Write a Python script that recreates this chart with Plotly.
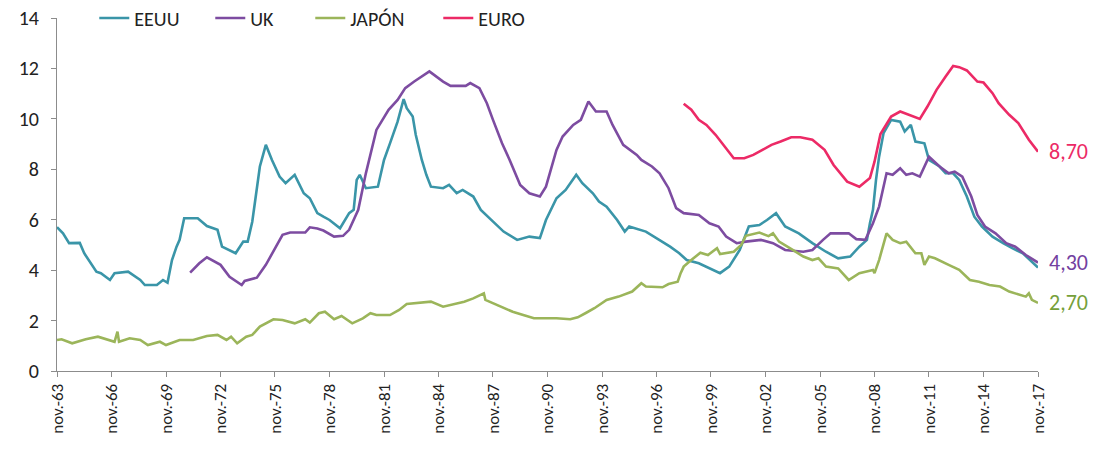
import plotly.graph_objects as go

# ---------------- data ----------------
eeuu_dates = ["1963-11","1964-03","1964-07","1965-02","1965-05","1966-01","1966-04","1966-10","1967-01","1967-10",
              "1968-06","1968-09","1969-05","1969-09","1969-12","1970-03","1970-06","1970-08","1970-11","1971-08",
              "1972-02","1972-09","1972-12","1973-09","1974-02","1974-05","1974-08","1975-01","1975-05","1975-09",
              "1976-02","1976-06","1976-12","1977-06","1977-10","1978-03","1978-07","1978-11","1979-06","1979-12",
              "1980-03","1980-05","1980-07","1980-11","1981-07","1981-11","1982-03","1982-08","1982-12","1983-02",
              "1983-06","1983-08","1983-12","1984-03","1984-06","1985-02","1985-06","1985-11","1986-03","1986-10",
              "1987-03","1987-11","1988-06","1989-03","1989-11","1990-06","1990-10","1991-05","1991-11","1992-06",
              "1992-10","1993-05","1993-09","1994-02","1994-09","1995-02","1995-05","1996-04","1996-11","1997-08",
              "1998-02","1998-07","1999-03","2000-05","2000-11","2001-06","2001-12","2002-07","2002-12","2003-06",
              "2003-12","2004-09","2005-06","2006-03","2006-11","2007-07","2008-01","2008-06","2008-08","2008-10",
              "2008-12","2009-02","2009-05","2009-10","2010-04","2010-07","2010-11","2011-02","2011-08","2011-11",
              "2012-06","2012-10","2013-03","2013-07","2013-12","2014-05","2014-10","2015-05","2015-12","2016-06",
              "2017-01","2017-11"]
eeuu_vals = [5.70,5.46,5.07,5.08,4.67,3.94,3.88,3.61,3.88,3.94,
             3.61,3.41,3.41,3.61,3.50,4.40,4.93,5.20,6.06,6.06,
             5.75,5.60,4.93,4.67,5.13,5.13,5.92,8.11,8.97,8.37,
             7.71,7.45,7.78,7.05,6.85,6.26,6.12,5.99,5.66,6.26,
             6.39,7.58,7.78,7.25,7.31,8.37,9.03,9.89,10.78,10.42,
             10.09,9.37,8.37,7.78,7.31,7.25,7.38,7.05,7.18,6.92,
             6.39,5.92,5.53,5.20,5.33,5.27,5.99,6.85,7.18,7.78,
             7.45,7.05,6.72,6.52,5.99,5.53,5.73,5.53,5.27,4.93,
             4.67,4.40,4.27,3.88,4.14,4.80,5.73,5.79,5.99,6.26,
             5.73,5.46,5.07,4.73,4.47,4.54,4.93,5.20,5.86,6.39,
             7.58,8.50,9.43,9.96,9.89,9.50,9.76,9.10,9.03,8.37,
             8.11,7.84,7.84,7.58,6.92,6.12,5.73,5.33,5.07,4.87,
             4.67,4.10]

uk_dates = ["1971-03","1971-09","1972-02","1972-11","1973-05","1974-01","1974-03","1974-11","1975-05","1975-10",
            "1976-04","1976-09","1977-07","1977-10","1978-03","1978-07","1979-02","1979-08","1979-12","1980-06",
            "1980-11","1981-06","1982-02","1982-08","1983-01","1983-07","1984-05","1985-02","1985-07","1986-05",
            "1986-08","1987-02","1987-07","1987-11","1988-05","1988-10","1989-05","1989-11","1990-06","1990-10",
            "1991-05","1991-09","1992-04","1992-09","1993-02","1993-07","1994-02","1994-06","1995-01","1995-10",
            "1996-01","1996-08","1997-01","1997-07","1997-12","1998-05","1999-03","1999-10","2000-04","2000-09",
            "2001-04","2001-10","2002-08","2003-04","2003-12","2004-12","2005-06","2006-01","2006-06","2007-06",
            "2007-11","2008-05","2008-10","2009-02","2009-07","2009-11","2010-04","2010-08","2010-12","2011-05",
            "2011-11","2012-06","2012-12","2013-04","2013-09","2014-03","2014-07","2014-12","2015-07","2016-02",
            "2016-08","2017-03","2017-11"]
uk_vals = [3.90,4.27,4.51,4.21,3.74,3.41,3.57,3.70,4.21,4.73,
           5.40,5.49,5.49,5.70,5.65,5.57,5.33,5.36,5.60,6.39,
           7.84,9.56,10.36,10.75,11.22,11.48,11.88,11.48,11.31,11.31,
           11.42,11.22,10.62,9.96,9.03,8.37,7.38,7.05,6.92,7.31,
           8.77,9.30,9.76,9.96,10.69,10.29,10.29,9.76,8.97,8.57,
           8.37,8.11,7.84,7.25,6.46,6.26,6.19,5.86,5.73,5.33,
           5.07,5.13,5.20,5.07,4.80,4.73,4.80,5.20,5.46,5.46,
           5.23,5.20,5.86,6.52,7.84,7.78,8.04,7.78,7.84,7.71,
           8.50,8.11,7.84,7.91,7.71,6.92,6.19,5.73,5.46,5.07,
           4.93,4.60,4.30]

japon_dates = ["1963-11","1964-02","1964-09","1965-06","1966-02","1966-07","1967-01","1967-03","1967-04","1967-11",
               "1968-06","1968-11","1969-07","1969-11","1970-08","1971-05","1972-02","1972-09","1973-03","1973-06",
               "1973-10","1974-04","1974-08","1975-01","1975-10","1976-04","1976-12","1977-07","1977-10","1978-04",
               "1978-08","1979-02","1979-07","1980-02","1980-09","1981-02","1981-06","1982-03","1982-09","1983-02",
               "1983-08","1984-06","1985-02","1985-11","1986-04","1986-10","1987-05","1987-06","1987-11","1988-06",
               "1988-12","1989-07","1990-02","1990-10","1991-05","1992-02","1992-07","1992-12","1993-06","1994-02",
               "1994-10","1995-07","1996-01","1996-04","1997-03","1997-07","1998-01","1998-03","1998-05","1998-10",
               "1999-04","1999-09","2000-03","2000-05","2001-02","2001-07","2001-10","2002-07","2003-01","2003-04",
               "2003-08","2004-05","2004-12","2005-06","2005-10","2006-03","2006-11","2007-06","2008-01","2008-10",
               "2008-11","2009-02","2009-07","2009-11","2010-04","2010-08","2011-02","2011-06","2011-08","2011-11",
               "2012-03","2012-12","2013-07","2014-02","2014-08","2015-03","2015-10","2016-04","2016-11","2017-03",
               "2017-05","2017-07","2017-11"]
japon_vals = [1.23,1.26,1.10,1.26,1.36,1.26,1.16,1.56,1.16,1.30,
              1.23,1.03,1.16,1.03,1.23,1.23,1.39,1.43,1.23,1.36,
              1.10,1.36,1.43,1.76,2.05,2.02,1.89,2.05,1.92,2.29,
              2.35,2.05,2.18,1.89,2.09,2.29,2.22,2.22,2.42,2.66,
              2.69,2.75,2.55,2.69,2.75,2.88,3.08,2.82,2.69,2.53,
              2.35,2.22,2.09,2.09,2.09,2.05,2.13,2.29,2.49,2.82,
              2.95,3.15,3.48,3.35,3.32,3.45,3.54,3.88,4.14,4.40,
              4.69,4.60,4.87,4.64,4.73,5.00,5.36,5.49,5.35,5.46,
              5.13,4.80,4.54,4.40,4.47,4.14,4.07,3.61,3.88,4.01,
              3.88,4.40,5.46,5.20,5.07,5.13,4.67,4.67,4.21,4.54,
              4.47,4.21,4.01,3.61,3.54,3.41,3.35,3.15,3.02,2.95,
              3.08,2.82,2.70]

euro_dates = ["1998-05","1998-10","1999-03","1999-08","2000-02","2000-07","2001-02","2001-09","2002-03","2002-09",
              "2003-03","2003-09","2004-04","2004-10","2005-06","2006-02","2006-08","2007-05","2008-01","2008-08",
              "2008-11","2009-03","2009-10","2010-04","2010-10","2011-05","2011-10","2012-04","2012-10","2013-03",
              "2013-07","2013-12","2014-07","2014-11","2015-05","2015-09","2016-04","2016-10","2017-05","2017-11"]
euro_vals = [10.60,10.36,9.96,9.76,9.37,8.97,8.44,8.44,8.57,8.77,
             8.97,9.10,9.27,9.27,9.17,8.77,8.17,7.51,7.31,7.65,
             8.30,9.40,10.09,10.29,10.16,10.00,10.49,11.15,11.68,12.10,
             12.05,11.92,11.48,11.44,11.02,10.62,10.16,9.83,9.17,8.70]

series_names = ["EEUU", "UK", "JAPÓN", "EURO"]
tick_years = list(range(1963, 2018, 3))
tick_labels = ["nov.-%02d" % (y % 100) for y in tick_years]

# ---------------- styling ----------------
colors = {"EEUU": "#3A95A8", "UK": "#7D4CA1", "JAPÓN": "#9BB55A", "EURO": "#EC2A66"}
label_colors = {"UK": "#7340A0", "JAPÓN": "#76A03A", "EURO": "#EC2A66"}
legend_widths = {"EEUU": 71, "UK": 55, "JAPÓN": 83, "EURO": 60}
FONT = "Calibri, Carlito, 'Liberation Sans Narrow', 'Open Sans', sans-serif"

data = {
    "EEUU": (eeuu_dates, eeuu_vals),
    "UK": (uk_dates, uk_vals),
    "JAPÓN": (japon_dates, japon_vals),
    "EURO": (euro_dates, euro_vals),
}

fig = go.Figure()
for name in series_names:
    d, v = data[name]
    fig.add_trace(go.Scatter(
        x=d, y=v, mode="lines", name=name,
        line=dict(color=colors[name], width=2.6),
        legendwidth=legend_widths[name],
        hoverinfo="x+y+name",
    ))

# end-value labels
for name in ["EURO", "UK", "JAPÓN"]:
    d, v = data[name]
    fig.add_annotation(
        x=d[-1], y=v[-1], xref="x", yref="y",
        text=("%.2f" % v[-1]).replace(".", ","),
        showarrow=False, xanchor="left", yanchor="middle", xshift=9,
        font=dict(family=FONT, size=22, color=label_colors[name]),
    )

fig.update_layout(
    width=1099, height=453,
    margin=dict(l=57, r=61, t=18, b=82, autoexpand=False),
    paper_bgcolor="white", plot_bgcolor="white",
    font=dict(family=FONT, size=20, color="#222222"),
    showlegend=True,
    legend=dict(
        orientation="h", x=0.038, xanchor="left", y=1.0, yanchor="middle",
        font=dict(family=FONT, size=20, color="#222222"),
        itemwidth=30, bgcolor="rgba(0,0,0,0)", borderwidth=0,
        tracegroupgap=0,
    ),
)
fig.update_xaxes(
    type="date",
    range=["1963-11-01", "2017-11-01"],
    tickvals=["%d-11-01" % y for y in tick_years],
    ticktext=tick_labels,
    tickangle=-90,
    tickfont=dict(family=FONT, size=17, color="#222222"),
    showgrid=False, zeroline=False,
    showline=True, linecolor="#8C8C8C", linewidth=1,
    ticks="outside", ticklen=5, tickcolor="#8C8C8C",
)
fig.update_yaxes(
    range=[0, 14], dtick=2, tick0=0,
    tickfont=dict(family=FONT, size=20, color="#222222"),
    ticklabelstandoff=8,
    showgrid=False, zeroline=False,
    showline=True, linecolor="#8C8C8C", linewidth=1,
    ticks="outside", ticklen=5, tickcolor="#8C8C8C",
)

fig.write_html("out.html", config={"displayModeBar": False},
               post_script="document.body.style.margin='0px';")
